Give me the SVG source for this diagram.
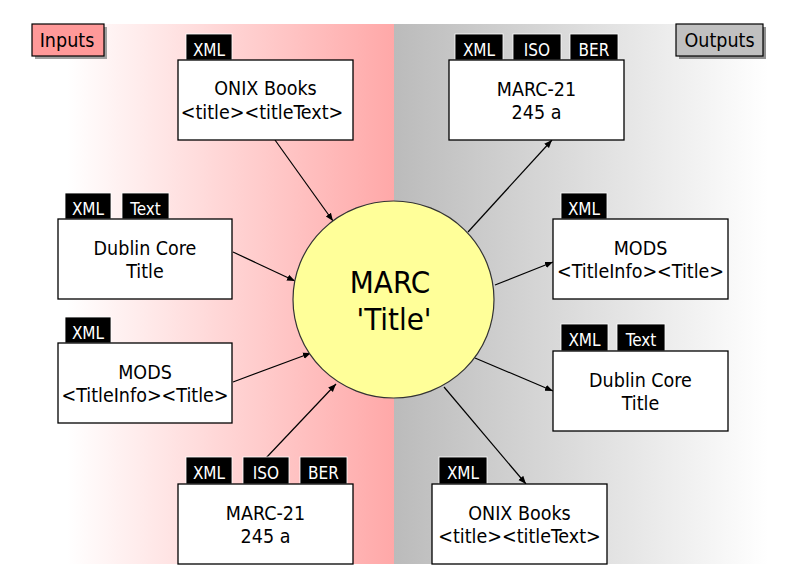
<svg xmlns="http://www.w3.org/2000/svg" width="788" height="586" viewBox="0 0 788 586">
<defs>
<linearGradient id="pink" x1="0" y1="0" x2="1" y2="0">
<stop offset="0.17" stop-color="#FFFFFF"/>
<stop offset="1" stop-color="#FFA8A8"/>
</linearGradient>
<linearGradient id="gray" x1="0" y1="0" x2="1" y2="0">
<stop offset="0" stop-color="#BBBBBB"/>
<stop offset="0.95" stop-color="#FFFFFF"/>
</linearGradient>
<marker id="ah" viewBox="0 0 10 10" refX="10" refY="5" markerWidth="8" markerHeight="8" markerUnits="userSpaceOnUse" orient="auto">
<path d="M0,1 L10,5 L0,9 z" fill="#000"/>
</marker>
</defs>
<style>
.box{fill:#FFFFFF;stroke:#000;stroke-width:1.3}
.badge{fill:#000;stroke:#FFF;stroke-width:0.8}
.bt{font-family:"DejaVu Sans Condensed","DejaVu Sans",sans-serif;font-size:17px;fill:#FFF;text-anchor:middle}
.t{font-family:"DejaVu Sans Condensed","DejaVu Sans",sans-serif;font-size:19.5px;fill:#000;text-anchor:middle}
.big{font-family:"DejaVu Sans Condensed","DejaVu Sans",sans-serif;font-size:31px;fill:#000;text-anchor:middle}
.lab{font-family:"DejaVu Sans Condensed","DejaVu Sans",sans-serif;font-size:19.5px;fill:#000;text-anchor:middle}
.c{stroke:#000;stroke-width:1.2;fill:none;marker-end:url(#ah)}
</style>
<rect width="788" height="586" fill="#FFFFFF"/>
<rect x="0" y="24" width="394" height="540" fill="url(#pink)"/>
<rect x="394" y="24" width="394" height="540" fill="url(#gray)"/>

<g id="inputs-label">
<rect x="35" y="27" width="72" height="32" fill="#A0A0A0"/>
<rect x="32" y="24" width="72" height="32" fill="#FF9999" stroke="#000" stroke-width="1.2"/>
<text class="lab" x="67" y="47">Inputs</text>
</g>
<g id="outputs-label">
<rect x="679" y="27" width="87" height="32" fill="#909090"/>
<rect x="676" y="24" width="87" height="32" fill="#C0C0C0" stroke="#000" stroke-width="1.2"/>
<text class="lab" x="719.5" y="47">Outputs</text>
</g>

<g id="connectors">
<line class="c" x1="275" y1="140" x2="333" y2="221"/>
<line class="c" x1="233" y1="252" x2="295" y2="281"/>
<line class="c" x1="233" y1="382" x2="311" y2="353"/>
<line class="c" x1="266" y1="458" x2="336" y2="384"/>
<line class="c" x1="468" y1="232" x2="552" y2="140"/>
<line class="c" x1="495" y1="285" x2="553" y2="262"/>
<line class="c" x1="475" y1="358" x2="553" y2="391"/>
<line class="c" x1="444" y1="387" x2="526" y2="484"/>
</g>

<g id="marc-title">
<ellipse cx="393.5" cy="299.5" rx="100.5" ry="98.5" fill="#FFFF99" stroke="#333" stroke-width="1.2"/>
<text class="big" x="390" y="293">MARC</text>
<text class="big" x="394" y="330">'Title'</text>
</g>

<g id="in-onix">
<rect class="badge" x="186" y="34" width="46" height="26"/>
<text class="bt" x="209" y="56">XML</text>
<rect class="box" x="178" y="60" width="175" height="80"/>
<text class="t" x="265.5" y="95">ONIX Books</text>
<text class="t" x="262" y="119">&lt;title&gt;&lt;titleText&gt;</text>
</g>

<g id="in-dc">
<rect class="badge" x="65" y="193" width="46" height="26"/>
<text class="bt" x="88" y="215">XML</text>
<rect class="badge" x="122" y="193" width="47" height="26"/>
<text class="bt" x="145.5" y="215">Text</text>
<rect class="box" x="58" y="219" width="174" height="80"/>
<text class="t" x="145" y="255">Dublin Core</text>
<text class="t" x="145" y="278">Title</text>
</g>

<g id="in-mods">
<rect class="badge" x="65" y="317" width="46" height="26"/>
<text class="bt" x="88" y="339">XML</text>
<rect class="box" x="58" y="343" width="174" height="80"/>
<text class="t" x="145" y="379">MODS</text>
<text class="t" x="145" y="402">&lt;TitleInfo&gt;&lt;Title&gt;</text>
</g>

<g id="in-marc">
<rect class="badge" x="186" y="457" width="46" height="27"/>
<text class="bt" x="209" y="479">XML</text>
<rect class="badge" x="243" y="457" width="46" height="27"/>
<text class="bt" x="266" y="479">ISO</text>
<rect class="badge" x="300" y="457" width="47" height="27"/>
<text class="bt" x="323.5" y="479">BER</text>
<rect class="box" x="178" y="484" width="175" height="80"/>
<text class="t" x="265.5" y="520">MARC-21</text>
<text class="t" x="265.5" y="543">245 a</text>
</g>

<g id="out-marc">
<rect class="badge" x="455" y="34" width="48" height="26"/>
<text class="bt" x="479" y="56">XML</text>
<rect class="badge" x="513" y="34" width="48" height="26"/>
<text class="bt" x="537" y="56">ISO</text>
<rect class="badge" x="570" y="34" width="48" height="26"/>
<text class="bt" x="594" y="56">BER</text>
<rect class="box" x="449" y="60" width="175" height="80"/>
<text class="t" x="536.5" y="96">MARC-21</text>
<text class="t" x="536.5" y="119">245 a</text>
</g>

<g id="out-mods">
<rect class="badge" x="561" y="193" width="46" height="26"/>
<text class="bt" x="584" y="215">XML</text>
<rect class="box" x="553" y="219" width="175" height="80"/>
<text class="t" x="640.5" y="255">MODS</text>
<text class="t" x="640.5" y="278">&lt;TitleInfo&gt;&lt;Title&gt;</text>
</g>

<g id="out-dc">
<rect class="badge" x="561" y="324" width="47" height="27"/>
<text class="bt" x="584.5" y="346">XML</text>
<rect class="badge" x="617" y="324" width="48" height="27"/>
<text class="bt" x="641" y="346">Text</text>
<rect class="box" x="553" y="351" width="175" height="80"/>
<text class="t" x="640.5" y="387">Dublin Core</text>
<text class="t" x="640.5" y="410">Title</text>
</g>

<g id="out-onix">
<rect class="badge" x="439" y="457" width="48" height="27"/>
<text class="bt" x="463" y="479">XML</text>
<rect class="box" x="432" y="484" width="175" height="80"/>
<text class="t" x="519.5" y="520">ONIX Books</text>
<text class="t" x="519.5" y="543">&lt;title&gt;&lt;titleText&gt;</text>
</g>
</svg>
